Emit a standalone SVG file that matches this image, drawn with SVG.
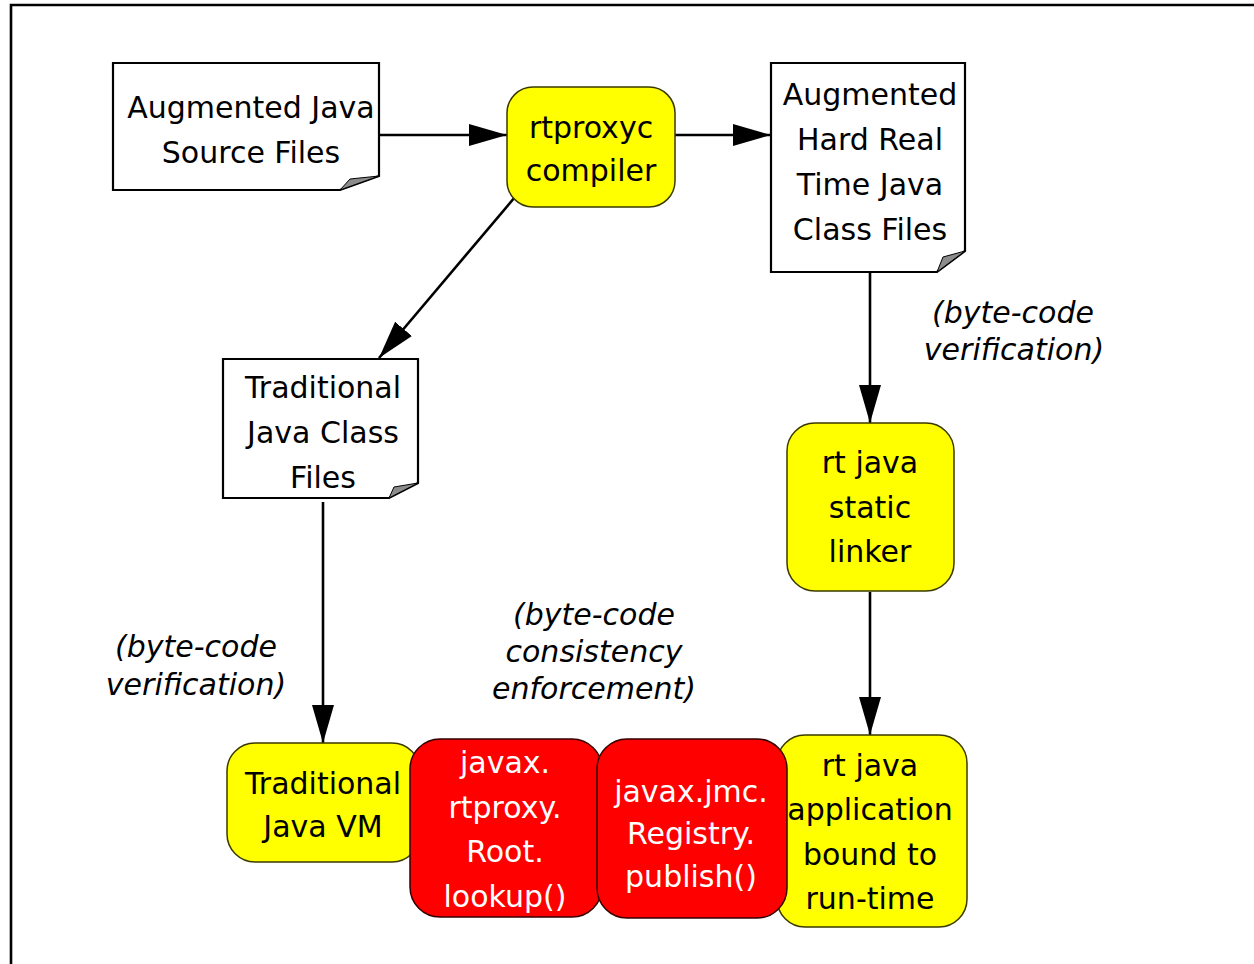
<svg xmlns="http://www.w3.org/2000/svg" width="1254" height="964" viewBox="0 0 1254 964">
<defs>
<style>
.t{font-family:"DejaVu Sans","Liberation Sans",sans-serif;font-size:30px;text-anchor:middle;fill:#000}
.w{fill:#fff}
.i{font-family:"DejaVu Sans","Liberation Sans",sans-serif;font-size:30px;font-style:italic;text-anchor:middle;fill:#000}
.doc{fill:#fff;stroke:#000;stroke-width:2.2}
.fold{fill:#8c8c8c;stroke:#000;stroke-width:1}
.yel{fill:#ffff00;stroke:#3a3a00;stroke-width:1.5}
.red{fill:#ff0000;stroke:#300;stroke-width:1.5}
.c{fill:none;stroke:#000;stroke-width:2.6}
</style>
<marker id="ah" markerUnits="userSpaceOnUse" markerWidth="40" markerHeight="24" refX="38" refY="11" orient="auto" viewBox="0 0 40 24">
<path d="M0,0 L38,11 L0,22 z" fill="#000"/>
</marker>
</defs>
<rect width="1254" height="964" fill="#fff"/>
<path d="M11,964 L11,5 L1254,5" fill="none" stroke="#000" stroke-width="2.6"/>

<g id="connectors">
<line class="c" x1="379" y1="135" x2="507" y2="135" marker-end="url(#ah)"/>
<line class="c" x1="675" y1="135" x2="771" y2="135" marker-end="url(#ah)"/>
<line class="c" x1="515" y1="197" x2="379" y2="358" marker-end="url(#ah)"/>
<line class="c" x1="870" y1="272" x2="870" y2="423" marker-end="url(#ah)"/>
<line class="c" x1="870" y1="592" x2="870" y2="735" marker-end="url(#ah)"/>
<line class="c" x1="323" y1="502" x2="323" y2="743" marker-end="url(#ah)"/>
</g>

<g id="source-files">
<path class="doc" d="M113,63 L379,63 L379,176 L340,190 L113,190 Z"/>
<polygon class="fold" points="340,190 350,179 379,176"/>
<text class="t" x="251" y="118">Augmented Java</text>
<text class="t" x="251" y="163">Source Files</text>
</g>

<g id="rtproxyc">
<rect class="yel" x="507" y="87" width="168" height="120" rx="26"/>
<text class="t" x="591" y="138">rtproxyc</text>
<text class="t" x="591" y="181">compiler</text>
</g>

<g id="hrt-class-files">
<path class="doc" d="M771,63 L965,63 L965,251 L937,272 L771,272 Z"/>
<polygon class="fold" points="937,272 943,257 965,251"/>
<text class="t" x="870" y="105">Augmented</text>
<text class="t" x="870" y="150">Hard Real</text>
<text class="t" x="870" y="195">Time Java</text>
<text class="t" x="870" y="240">Class Files</text>
</g>

<g id="trad-class-files">
<path class="doc" d="M223,359 L418,359 L418,483 L389,498 L223,498 Z"/>
<polygon class="fold" points="389,498 394,487 418,483"/>
<text class="t" x="323" y="398">Traditional</text>
<text class="t" x="323" y="443">Java Class</text>
<text class="t" x="323" y="488">Files</text>
</g>

<g id="linker">
<rect class="yel" x="787" y="423" width="167" height="168" rx="28"/>
<text class="t" x="870" y="473">rt java</text>
<text class="t" x="870" y="518">static</text>
<text class="t" x="870" y="562">linker</text>
</g>

<g id="label-verif-right">
<text class="i" x="1013" y="323">(byte-code</text>
<text class="i" x="1014" y="360">verification)</text>
</g>
<g id="label-verif-left">
<text class="i" x="196" y="657">(byte-code</text>
<text class="i" x="196" y="695">verification)</text>
</g>
<g id="label-consistency">
<text class="i" x="594" y="625">(byte-code</text>
<text class="i" x="594" y="662">consistency</text>
<text class="i" x="594" y="699">enforcement)</text>
</g>

<g id="trad-vm">
<rect class="yel" x="227" y="743" width="193" height="119" rx="28"/>
<text class="t" x="323" y="794">Traditional</text>
<text class="t" x="323" y="837">Java VM</text>
</g>

<g id="rt-app">
<rect class="yel" x="777" y="735" width="190" height="192" rx="28"/>
<text class="t" x="870" y="776">rt java</text>
<text class="t" x="870" y="820">application</text>
<text class="t" x="870" y="865">bound to</text>
<text class="t" x="870" y="909">run-time</text>
</g>

<g id="root-lookup">
<rect class="red" x="410" y="739" width="192" height="178" rx="30"/>
<text class="t w" x="505" y="773">javax.</text>
<text class="t w" x="505" y="818">rtproxy.</text>
<text class="t w" x="505" y="862">Root.</text>
<text class="t w" x="505" y="907">lookup()</text>
</g>

<g id="registry-publish">
<rect class="red" x="597" y="739" width="190" height="179" rx="30"/>
<text class="t w" x="691" y="802">javax.jmc.</text>
<text class="t w" x="691" y="844">Registry.</text>
<text class="t w" x="691" y="887">publish()</text>
</g>
</svg>
